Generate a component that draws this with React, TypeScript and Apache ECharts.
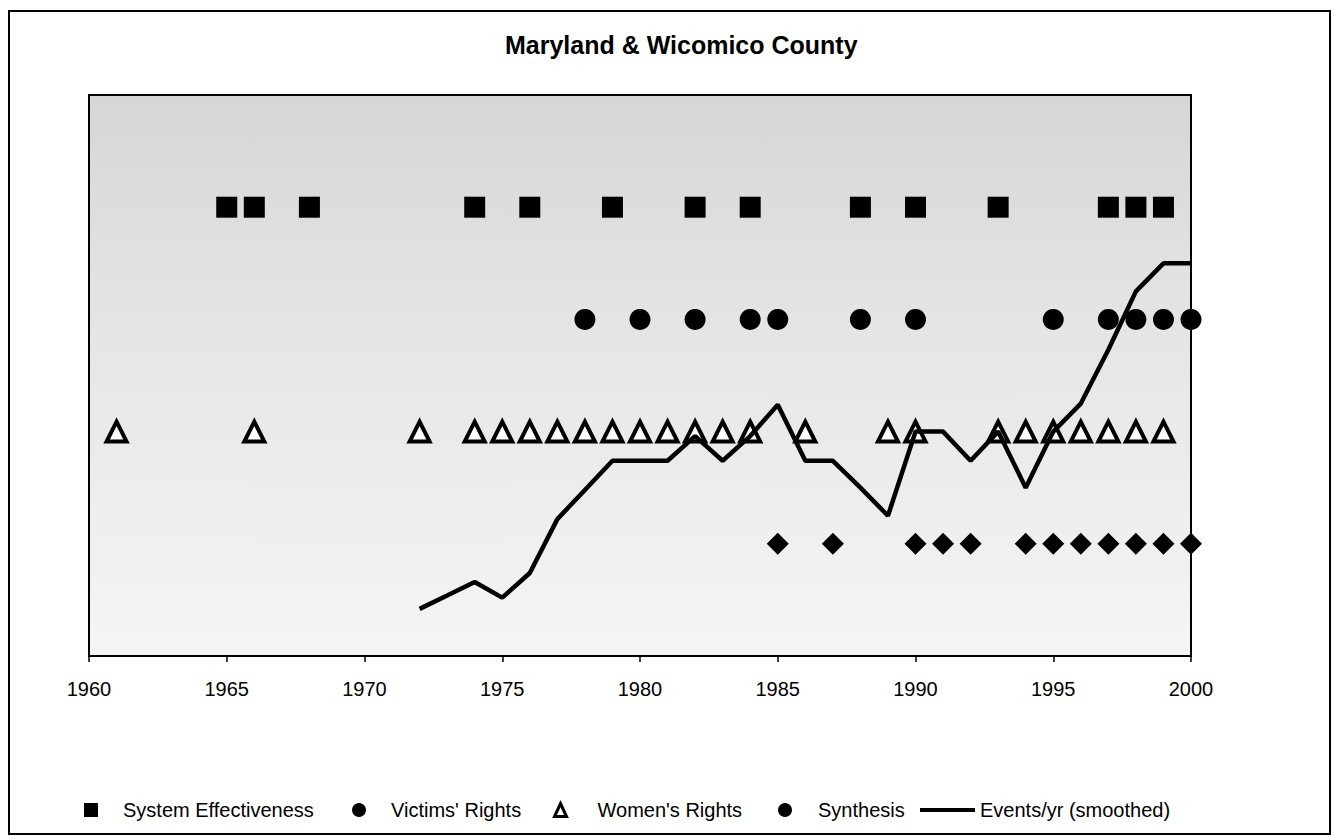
import React, { useEffect, useRef } from "react";
import * as echarts from "echarts";

// ---- data ----
const xMin = 1960;
const xMax = 2000;
const xInterval = 5;
const yMin = 0;
const yMax = 5;

const systemLevel = 4;
const victimsLevel = 3;
const womenLevel = 2;
const synthesisLevel = 1;

const systemYears = [1965, 1966, 1968, 1974, 1976, 1979, 1982, 1984, 1988, 1990, 1993, 1997, 1998, 1999];
const victimsYears = [1978, 1980, 1982, 1984, 1985, 1988, 1990, 1995, 1997, 1998, 1999, 2000];
const womenYears = [
  1961, 1966, 1972, 1974, 1975, 1976, 1977, 1978, 1979, 1980, 1981, 1982, 1983, 1984,
  1986, 1989, 1990, 1993, 1994, 1995, 1996, 1997, 1998, 1999,
];
const synthesisYears = [1985, 1987, 1990, 1991, 1992, 1994, 1995, 1996, 1997, 1998, 1999, 2000];

const eventYears = [
  1972, 1973, 1974, 1975, 1976, 1977, 1978, 1979, 1980, 1981, 1982, 1983, 1984, 1985,
  1986, 1987, 1988, 1989, 1990, 1991, 1992, 1993, 1994, 1995, 1996, 1997, 1998, 1999, 2000,
];
const eventValues = [
  0.42, 0.54, 0.66, 0.52, 0.74, 1.22, 1.48, 1.74, 1.74, 1.74, 1.96, 1.74, 1.96, 2.24,
  1.74, 1.74, 1.5, 1.25, 2.0, 2.0, 1.74, 2.0, 1.5, 2.0, 2.25, 2.73, 3.25, 3.5, 3.5,
];

const seriesNames = {
  system: "System Effectiveness",
  victims: "Victims' Rights",
  women: "Women's Rights",
  synthesis: "Synthesis",
  events: "Events/yr (smoothed)",
};

const FONT = "'Liberation Sans', Arial, Helvetica, sans-serif";

export default function App() {
  const ref = useRef<HTMLDivElement>(null);

  useEffect(() => {
    if (!ref.current) return;
    const chart = echarts.init(ref.current, null, { renderer: "svg" });

    const rowData = (years: number[], level: number) => years.map((y) => [y, level]);

    const legendText = (padLeft: number) => ({
      fontFamily: FONT,
      fontSize: 20,
      color: "#000",
      padding: [0, 0, 0, padLeft],
    });

    const legendCommon = {
      top: 795,
      itemWidth: 14,
      itemHeight: 14,
      selectedMode: false as const,
    };

    chart.setOption({
      animation: false,
      backgroundColor: "#fff",
      title: {
        text: "Maryland & Wicomico County",
        left: 500,
        top: 27,
        textStyle: { fontFamily: FONT, fontSize: 25, fontWeight: "bold", color: "#000" },
      },
      graphic: [
        {
          type: "rect",
          shape: { x: 9, y: 11, width: 1321, height: 823 },
          style: { fill: "none", stroke: "#000", lineWidth: 2 },
          silent: true,
        },
      ],
      grid: {
        left: 89,
        right: 143,
        top: 95,
        bottom: 183,
        show: true,
        borderColor: "#000",
        borderWidth: 2,
        backgroundColor: new echarts.graphic.LinearGradient(0, 0, 0, 1, [
          { offset: 0, color: "#d6d6d6" },
          { offset: 0.45, color: "#e6e6e6" },
          { offset: 1, color: "#f5f5f5" },
        ]),
      },
      xAxis: {
        type: "value",
        min: xMin,
        max: xMax,
        interval: xInterval,
        axisLine: { show: true, lineStyle: { color: "#000", width: 2 } },
        axisTick: { show: true, length: 6, lineStyle: { color: "#000", width: 1.5 } },
        axisLabel: {
          fontFamily: FONT,
          fontSize: 20,
          color: "#000",
          margin: 23,
          formatter: (v: number) => String(v),
        },
        splitLine: { show: false },
      },
      yAxis: {
        type: "value",
        min: yMin,
        max: yMax,
        show: false,
        splitLine: { show: false },
      },
      legend: [
        { ...legendCommon, left: 79, textStyle: legendText(20), data: [{ name: seriesNames.system, icon: "rect" }] },
        { ...legendCommon, left: 347, textStyle: legendText(20), data: [{ name: seriesNames.victims, icon: "circle" }] },
        {
          ...legendCommon,
          left: 548,
          itemWidth: 12,
          itemHeight: 13,
          textStyle: legendText(26),
          data: [
            {
              name: seriesNames.women,
              icon: "triangle",
              itemStyle: { color: "#fff", borderColor: "#000", borderWidth: 3 },
            },
          ],
        },
        { ...legendCommon, left: 773, textStyle: legendText(21), data: [{ name: seriesNames.synthesis, icon: "circle" }] },
        {
          ...legendCommon,
          left: 915,
          itemWidth: 55,
          itemHeight: 4,
          textStyle: legendText(0),
          data: [{ name: seriesNames.events, icon: "rect" }],
        },
      ],
      series: [
        {
          name: seriesNames.system,
          type: "scatter",
          symbol: "rect",
          symbolSize: 21,
          itemStyle: { color: "#000", opacity: 1 },
          data: rowData(systemYears, systemLevel),
          z: 2,
        },
        {
          name: seriesNames.victims,
          type: "scatter",
          symbol: "circle",
          symbolSize: 21,
          itemStyle: { color: "#000", opacity: 1 },
          data: rowData(victimsYears, victimsLevel),
          z: 2,
        },
        {
          name: seriesNames.women,
          type: "scatter",
          symbol: "triangle",
          symbolSize: 20,
          itemStyle: { color: "#fff", borderColor: "#000", borderWidth: 4, opacity: 1 },
          data: rowData(womenYears, womenLevel),
          z: 2,
        },
        {
          name: seriesNames.synthesis,
          type: "scatter",
          symbol: "diamond",
          symbolSize: 22,
          itemStyle: { color: "#000", opacity: 1 },
          data: rowData(synthesisYears, synthesisLevel),
          z: 2,
        },
        {
          name: seriesNames.events,
          type: "line",
          symbol: "none",
          showSymbol: false,
          lineStyle: { color: "#000", width: 4.5 },
          itemStyle: { color: "#000" },
          data: eventYears.map((y, i) => [y, eventValues[i]]),
          z: 3,
        },
      ],
    });

    return () => chart.dispose();
  }, []);

  return (
    <div
      ref={ref}
      style={{ position: "fixed", left: 0, top: 0, width: 1334, height: 839 }}
    />
  );
}
